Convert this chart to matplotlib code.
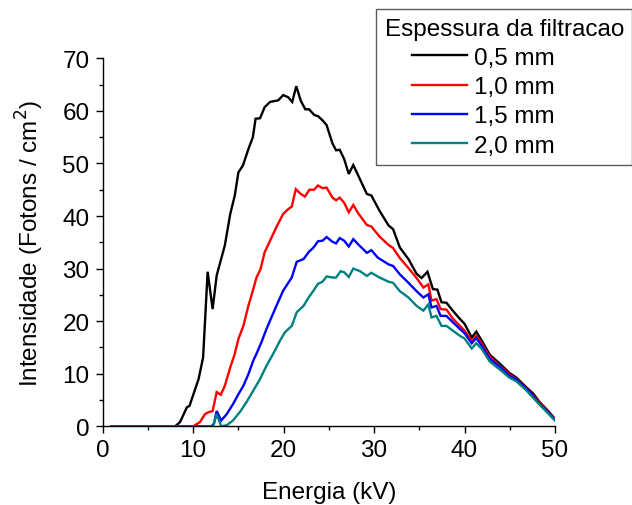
import matplotlib
matplotlib.use("Agg")
import matplotlib.pyplot as plt
from matplotlib.ticker import MultipleLocator
from matplotlib.legend_handler import HandlerLine2D

plt.rcParams['font.family'] = ['Liberation Sans', 'DejaVu Sans']

labels = ["0,5 mm", "1,0 mm", "1,5 mm", "2,0 mm"]
colors = ["#000000", "#ff0000", "#0000ff", "#008080"]

e_05 = [1.0, 8.0, 8.55, 9.3, 9.6, 10.6, 11.1, 11.6, 12.15, 12.6, 13.5, 14.1, 14.6, 15.0, 15.5,
        16.1, 16.6, 16.9, 17.4, 17.9, 18.5, 19.4, 19.95, 20.5, 20.95, 21.4, 21.9, 22.4, 22.8,
        23.4, 23.8, 24.3, 24.75, 25.4, 25.8, 26.2, 26.7, 27.2, 27.7, 28.25, 29.2, 29.7, 30.6,
        31.6, 32.1, 32.85, 33.8, 34.7, 35.25, 35.9, 36.5, 37.0, 37.45, 38.0, 38.7, 39.5, 40.0,
        40.8, 41.3, 41.9, 42.8, 43.9, 45.0, 45.7, 46.85, 47.6, 48.3, 49.2, 50.0]
v_05 = [0.0, 0.0, 0.8, 3.6, 3.9, 9.0, 13.1, 29.4, 22.3, 28.7, 34.4, 40.4, 43.9, 48.3, 49.6,
        52.7, 55.0, 58.5, 58.6, 60.7, 61.7, 62.0, 63.0, 62.6, 61.7, 64.7, 61.9, 60.3, 60.3,
        59.2, 59.0, 58.2, 57.3, 53.8, 52.5, 52.6, 50.8, 48.0, 49.7, 47.7, 44.2, 43.9, 41.0,
        38.2, 37.5, 34.0, 31.8, 29.0, 28.2, 29.4, 26.1, 26.0, 23.6, 23.5, 22.0, 20.4, 19.5,
        16.9, 18.0, 16.3, 13.6, 11.9, 10.1, 9.3, 7.4, 6.2, 4.6, 3.0, 1.4]

e_10 = [1.0, 10.0, 10.75, 11.3, 11.7, 12.15, 12.6, 13.05, 13.5, 14.1, 14.6, 15.0, 15.55, 16.1,
        16.6, 17.0, 17.45, 17.9, 18.5, 19.2, 19.95, 20.5, 20.9, 21.35, 21.9, 22.35, 22.85, 23.35,
        23.8, 24.3, 24.75, 25.4, 25.8, 26.2, 26.7, 27.2, 27.7, 28.25, 29.2, 29.7, 30.6, 31.6,
        32.1, 32.85, 33.8, 34.7, 35.45, 36.0, 36.35, 36.9, 37.35, 38.0, 38.7, 39.5, 40.0, 40.8,
        41.3, 41.9, 42.8, 43.9, 45.0, 45.7, 46.85, 48.3, 50.0]
v_10 = [0.0, 0.0, 0.8, 2.3, 2.7, 2.9, 6.5, 6.0, 7.7, 11.2, 13.8, 16.6, 19.1, 22.9,
        25.8, 28.3, 29.9, 33.1, 35.3, 37.9, 40.4, 41.3, 41.8, 45.1, 44.2, 43.7, 45.0, 45.0,
        45.8, 45.3, 45.4, 43.5, 43.0, 43.5, 42.5, 40.7, 42.1, 40.5, 38.3, 38.0, 36.1, 34.5,
        33.9, 32.0, 30.1, 28.2, 26.4, 27.0, 23.9, 24.2, 22.3, 22.2, 20.5, 19.1, 18.2, 16.3,
        17.2, 15.7, 13.2, 11.5, 9.8, 9.0, 7.2, 4.5, 1.3]

e_15 = [1.0, 12.0, 12.3, 12.6, 13.1, 13.7, 14.4, 15.0, 15.55, 16.1, 16.65, 17.0, 17.55, 18.1,
        18.65, 19.2, 19.95, 20.9, 21.45, 22.2, 22.8, 23.3, 23.8, 24.3, 24.75, 25.4, 25.8, 26.2,
        26.7, 27.2, 27.7, 28.25, 29.2, 29.7, 30.4, 31.6, 32.1, 32.85, 33.8, 34.7, 35.45, 36.0,
        36.35, 36.9, 37.35, 38.0, 38.7, 39.5, 40.0, 40.8, 41.3, 41.9, 42.8, 43.9, 45.0, 45.7,
        46.85, 48.3, 50.0]
v_15 = [0.0, 0.0, 0.5, 2.9, 1.1, 2.3, 4.2, 6.1, 7.7, 9.9, 12.5, 13.8, 16.0, 18.5,
        20.7, 22.9, 25.8, 28.3, 31.3, 31.8, 33.2, 34.0, 35.2, 35.3, 36.0, 35.1, 34.8, 35.8,
        35.3, 34.2, 35.6, 34.6, 33.0, 33.5, 32.1, 30.8, 30.5, 28.9, 27.3, 25.7, 24.5, 25.1,
        22.6, 22.9, 21.0, 21.0, 19.8, 18.5, 17.7, 15.8, 16.8, 15.3, 12.8, 11.3, 9.6, 8.9,
        7.1, 4.3, 1.2]

e_20 = [1.0, 12.2, 12.6, 13.1, 13.7, 14.4, 15.2, 15.9, 16.65, 17.4, 18.1, 18.85, 19.6, 20.15,
        20.9, 21.45, 22.2, 22.8, 23.3, 23.8, 24.3, 24.75, 25.4, 25.8, 26.3, 26.7, 27.2, 27.7,
        28.45, 29.2, 29.7, 30.6, 31.6, 32.1, 32.85, 33.8, 34.7, 35.45, 36.0, 36.35, 36.9, 37.45,
        38.0, 38.7, 39.5, 40.0, 40.8, 41.3, 41.9, 42.8, 43.9, 45.0, 45.7, 46.85, 48.3, 50.0]
v_20 = [0.0, 0.0, 2.3, 0.0, 0.2, 1.1, 2.8, 4.6, 6.8, 9.0, 11.5, 13.8, 16.3, 17.9,
        19.1, 21.7, 22.9, 24.6, 25.8, 27.1, 27.5, 28.5, 28.3, 28.3, 29.5, 29.3, 28.4, 30.0,
        29.5, 28.6, 29.2, 28.3, 27.5, 27.3, 25.7, 24.5, 22.9, 22.0, 23.2, 20.7, 21.0, 19.1,
        19.1, 18.2, 17.2, 16.7, 14.8, 15.8, 14.7, 12.3, 10.8, 9.2, 8.6, 6.8, 4.1, 1.1]

energies = [e_05, e_10, e_15, e_20]
values = [v_05, v_10, v_15, v_20]

FS = 17.5

fig = plt.figure(figsize=(6.32, 5.06), dpi=100)
ax = fig.add_axes([102.7 / 632, 1 - 427.3 / 506, (555 - 102.7) / 632, (427.3 - 59.3) / 506])

lines = []
for e, v, c, lab in zip(energies, values, colors, labels):
    ln, = ax.plot(e, v, color=c, lw=1.7, label=lab, solid_joinstyle='miter')
    lines.append(ln)

ax.set_xlim(0, 50)
ax.set_ylim(0, 70)
ax.xaxis.set_major_locator(MultipleLocator(10))
ax.xaxis.set_minor_locator(MultipleLocator(5))
ax.yaxis.set_major_locator(MultipleLocator(10))
ax.yaxis.set_minor_locator(MultipleLocator(5))
for s in ['top', 'right']:
    ax.spines[s].set_visible(False)
for s in ['left', 'bottom']:
    ax.spines[s].set_linewidth(1.0)
ax.tick_params(which='major', direction='out', length=5, width=1.0, labelsize=FS, pad=4.5)
ax.tick_params(which='minor', direction='out', length=3, width=1.0)
ax.set_xlabel("Energia (kV)", fontsize=FS, labelpad=14)
ax.set_ylabel("Intensidade (Fotons / cm$^2$)", fontsize=FS, labelpad=12)

leg = fig.legend(handles=lines, labels=labels, title="Espessura da filtracao",
                 loc='upper left', bbox_to_anchor=(376 / 632, 1 - 10 / 506),
                 fontsize=FS, title_fontsize=FS, alignment='left',
                 handlelength=3.4, handletextpad=0.3, labelspacing=0.3,
                 borderpad=0.35, borderaxespad=0, fancybox=False,
                 handler_map={ln: HandlerLine2D(xpad=1.15) for ln in lines})
leg.get_frame().set_edgecolor('#333333')
leg.get_frame().set_linewidth(1.0)

fig.savefig("out.png", dpi=100)
